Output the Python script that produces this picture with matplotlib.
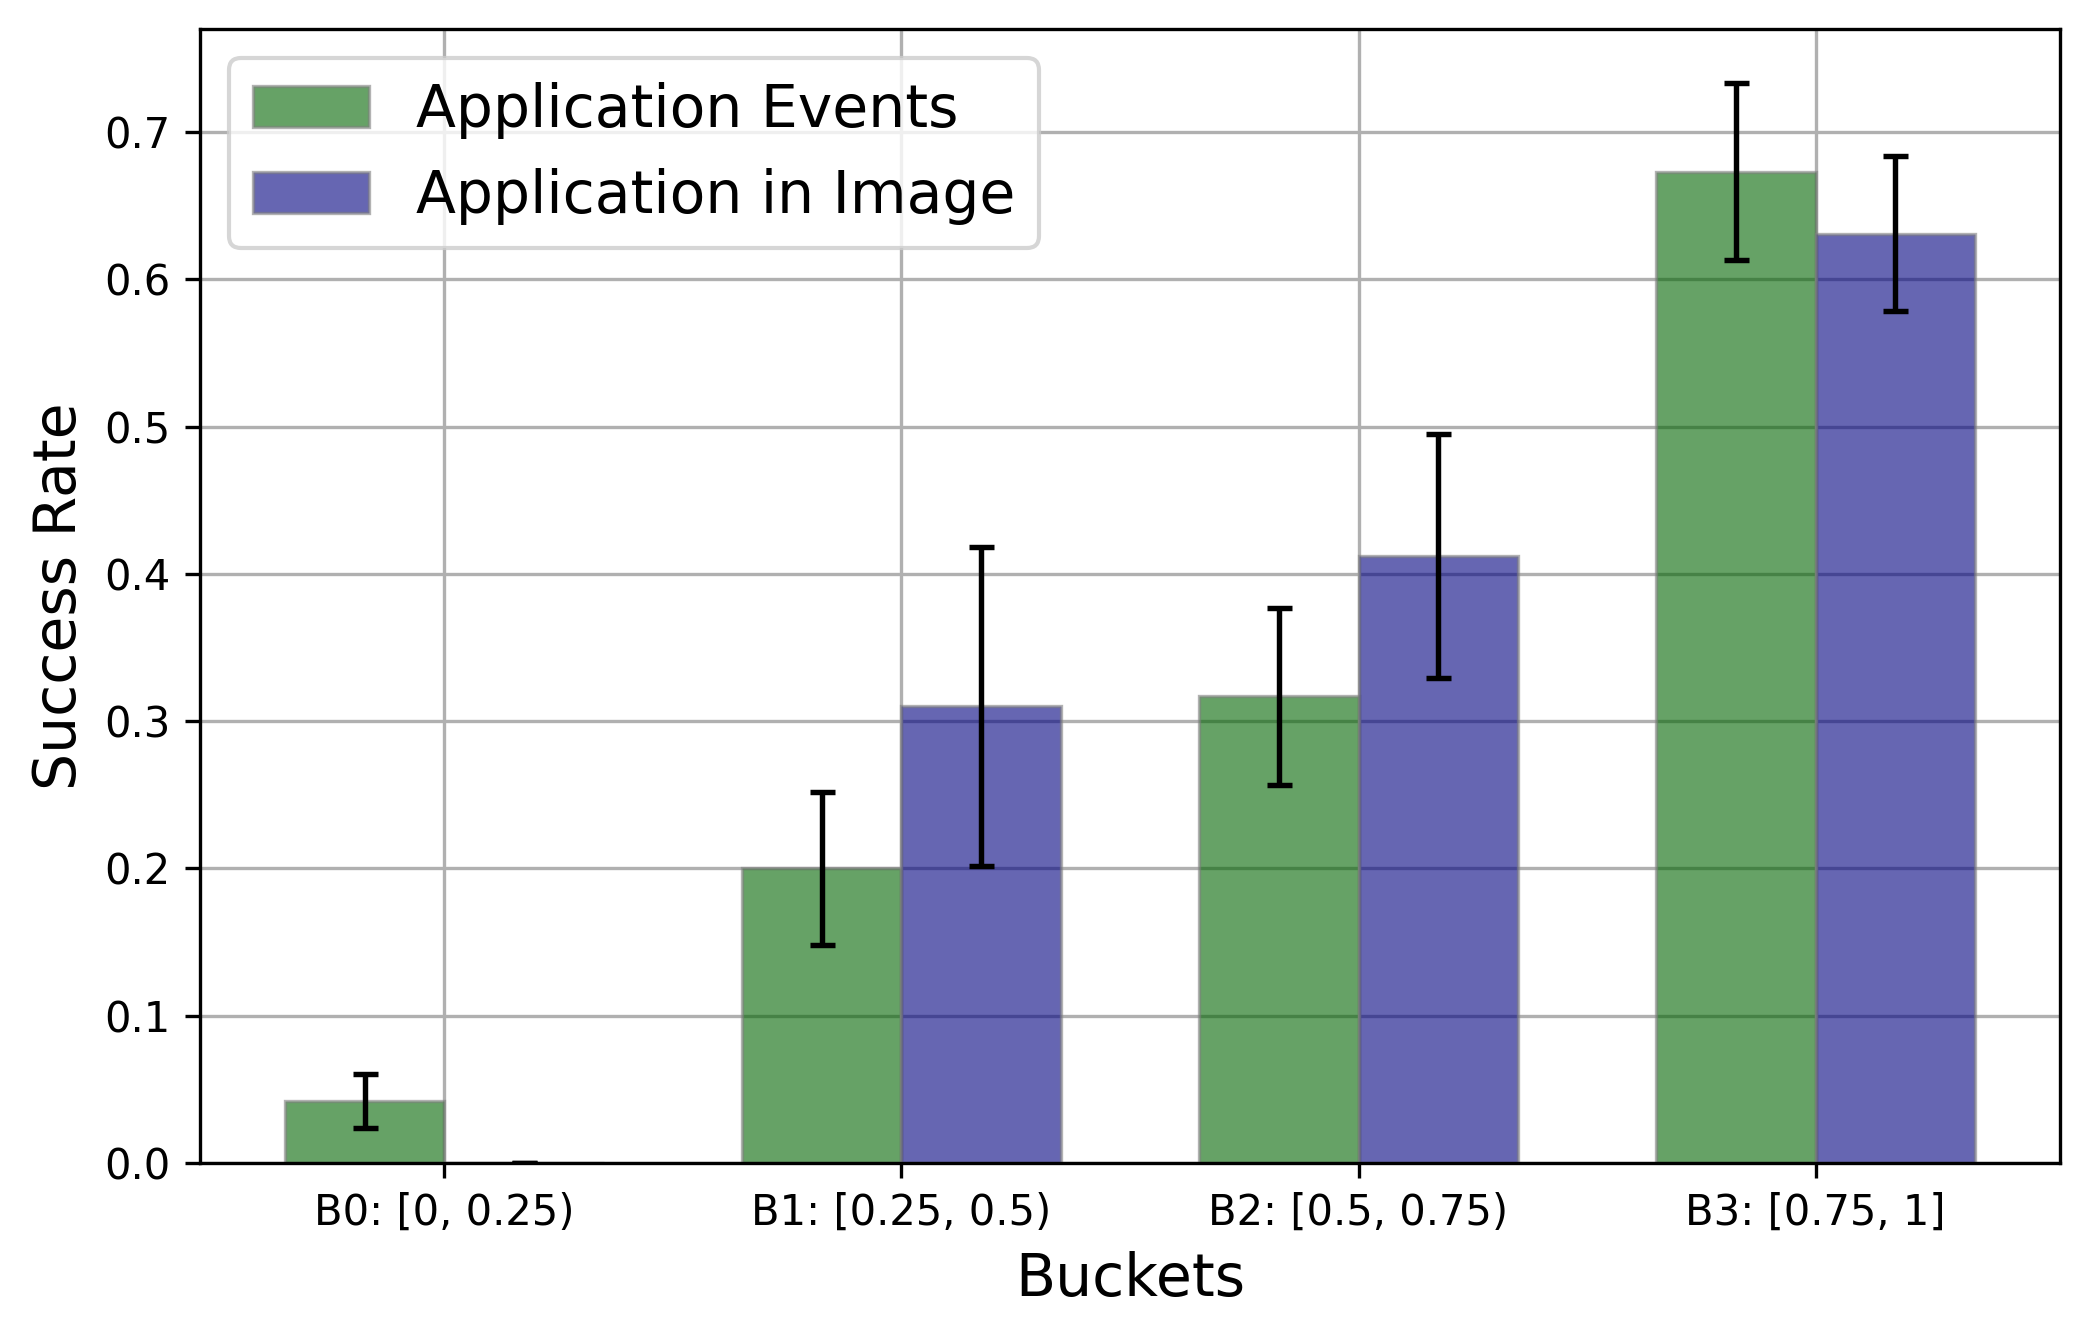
import matplotlib
matplotlib.use("Agg")
import matplotlib.pyplot as plt
import numpy as np

categories = ["B0: [0, 0.25)", "B1: [0.25, 0.5)", "B2: [0.5, 0.75)", "B3: [0.75, 1]"]
events_vals = [0.042, 0.200, 0.317, 0.673]
events_err = [0.0185, 0.052, 0.060, 0.060]
image_vals = [0.0, 0.310, 0.412, 0.631]
image_err = [0.0, 0.108, 0.083, 0.0525]
series_labels = ["Application Events", "Application in Image"]

fig = plt.figure(figsize=(2089 / 300, 1337 / 300), dpi=300)
ax = fig.add_axes([200 / 2089, 1 - 1163 / 1337, 1860 / 2089, (1163 - 29) / 1337])

x = np.arange(len(categories))
w = 0.35
ax.set_axisbelow(True)
ax.grid(True, color="#b0b0b0", linewidth=0.8)

ek = dict(elinewidth=1.3, capthick=1.3, ecolor="black")
ax.bar(x - w / 2, events_vals, w, yerr=events_err, capsize=3, color="darkgreen",
       edgecolor="grey", linewidth=0.8, alpha=0.6, label=series_labels[0], error_kw=ek)
ax.bar(x + w / 2, image_vals, w, yerr=image_err, capsize=3, color="navy",
       edgecolor="grey", linewidth=0.8, alpha=0.6, label=series_labels[1], error_kw=ek)

ax.set_xticks(x)
ax.set_xticklabels(categories, fontsize=10)
ax.tick_params(axis="y", labelsize=10)
ax.set_xlabel("Buckets", fontsize=14)
ax.set_ylabel("Success Rate", fontsize=14)
ax.set_ylim(0, 0.77)
ax.legend(loc="upper left", fontsize=14)

fig.savefig("out.png", dpi=300)
